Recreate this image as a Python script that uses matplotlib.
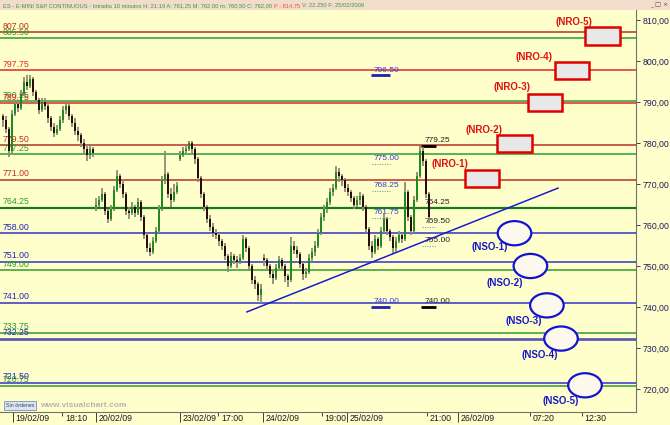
import matplotlib
matplotlib.use('Agg')
import matplotlib.pyplot as plt
import matplotlib.transforms as mtransforms
from matplotlib.patches import Rectangle, Ellipse
import numpy as np

plt.rcParams['font.family'] = ['Liberation Sans', 'DejaVu Sans']

# ---------------- data ----------------
opens = [786.5, 785.5, 783.5, 778.0, 787.0, 789.5, 788.5, 792.0, 795.0, 794.0,
         795.5, 792.5, 790.5, 788.0, 790.0, 789.0, 786.0, 784.0, 782.5, 783.5,
         785.5, 788.0, 789.0, 786.5, 785.0, 783.0, 782.0, 780.0, 778.5, 777.0,
         778.5, 764.5, 765.0, 766.0, 767.5, 763.5, 761.5, 764.0, 768.5, 772.0,
         770.0, 767.5, 763.5, 763.0, 764.5, 763.0, 765.5, 762.0, 757.5, 754.5,
         753.5, 756.0, 758.5, 764.0, 771.0, 772.5, 767.5, 766.0, 768.0, 776.0,
         777.0, 778.0, 778.5, 780.0, 778.5, 776.0, 771.5, 767.5, 764.5, 761.5,
         759.5, 758.0, 757.5, 756.0, 755.0, 752.5, 750.0, 752.5, 751.5, 751.0,
         752.0, 756.5, 754.5, 750.0, 746.5, 745.5, 743.0, 752.0, 751.5, 750.0,
         748.0, 747.0, 749.5, 751.5, 750.0, 747.5, 746.5, 755.0, 754.0, 753.0,
         750.5, 748.0, 748.5, 752.0, 753.5, 755.0, 758.0, 762.0, 764.0, 765.5,
         768.0, 769.0, 773.0, 772.0, 771.0, 769.0, 768.0, 766.5, 765.0, 766.0,
         767.0, 764.5, 759.0, 755.0, 753.5, 756.5, 755.0, 758.5, 761.5, 758.5,
         757.0, 754.5, 756.0, 757.5, 756.5, 768.0, 762.0, 758.5, 766.0, 772.0,
         778.0, 775.5, 767.5]
highs = [787.0, 786.5, 784.0, 788.0, 790.5, 790.5, 793.0, 796.0, 796.5, 796.5,
         796.0, 793.0, 791.0, 791.0, 791.0, 789.5, 786.5, 785.0, 784.5, 786.5,
         789.0, 789.5, 789.5, 787.0, 786.0, 784.0, 782.5, 781.0, 779.5, 779.5,
         779.0, 766.5, 767.0, 769.0, 768.0, 764.0, 765.0, 769.5, 773.5, 772.5,
         771.0, 768.0, 764.5, 765.5, 765.0, 766.5, 766.0, 762.5, 758.0, 755.5,
         757.0, 759.5, 765.0, 772.0, 778.0, 773.0, 769.0, 770.0, 770.5, 778.0,
         779.0, 779.5, 780.5, 780.5, 779.0, 776.5, 772.0, 768.0, 765.0, 762.5,
         760.5, 759.0, 758.0, 756.5, 755.5, 753.0, 753.5, 753.0, 752.5, 753.0,
         757.5, 757.0, 755.0, 750.5, 747.5, 746.0, 745.5, 753.0, 752.0, 750.5,
         749.0, 750.5, 752.5, 752.0, 750.5, 748.0, 757.0, 756.0, 755.0, 753.5,
         751.0, 749.5, 753.0, 754.5, 756.0, 759.0, 763.0, 765.0, 766.5, 769.0,
         770.0, 774.5, 774.0, 772.5, 771.5, 770.0, 768.5, 767.0, 767.0, 768.0,
         767.5, 765.0, 759.5, 756.0, 757.5, 757.0, 759.5, 763.0, 762.0, 759.0,
         757.5, 757.0, 758.5, 758.0, 770.5, 768.5, 762.5, 767.0, 773.0, 779.25,
         779.0, 776.0, 768.0]
lows = [784.0, 782.5, 776.5, 777.5, 786.5, 787.5, 788.0, 791.5, 793.0, 793.5,
        791.5, 789.5, 787.0, 787.5, 788.0, 785.0, 783.0, 781.5, 782.0, 783.0,
        785.0, 787.0, 785.5, 784.0, 782.0, 780.5, 779.0, 777.0, 775.5, 776.0,
        776.5, 763.5, 764.5, 765.5, 762.5, 760.5, 761.0, 763.5, 768.0, 769.0,
        766.5, 762.5, 761.5, 762.5, 762.0, 762.5, 761.0, 756.5, 753.5, 752.5,
        753.0, 755.5, 758.0, 763.5, 770.0, 766.5, 764.5, 765.5, 767.5, 775.5,
        776.5, 777.5, 778.0, 777.5, 775.0, 770.5, 766.5, 763.5, 760.5, 758.5,
        757.0, 756.5, 755.0, 754.0, 751.5, 748.5, 749.5, 750.5, 749.5, 750.5,
        751.5, 753.5, 749.0, 745.5, 744.5, 741.5, 741.0, 750.0, 749.0, 747.0,
        745.5, 746.5, 749.0, 749.0, 746.0, 745.0, 746.0, 753.0, 752.0, 749.5,
        746.5, 747.0, 748.0, 751.0, 752.5, 754.5, 757.5, 761.0, 763.0, 765.0,
        767.0, 768.5, 770.5, 769.5, 768.0, 767.0, 765.5, 764.0, 764.5, 765.0,
        763.5, 758.0, 754.0, 752.0, 753.0, 754.0, 754.5, 758.0, 757.5, 756.0,
        753.0, 753.5, 755.5, 755.5, 756.0, 761.0, 757.5, 758.0, 765.5, 771.5,
        774.5, 766.5, 760.5]
closes = [785.5, 783.5, 778.0, 787.0, 789.5, 788.5, 792.0, 795.0, 794.0, 795.5,
          792.5, 790.5, 788.0, 790.0, 789.0, 786.0, 784.0, 782.5, 783.5, 785.5,
          788.0, 789.0, 786.5, 785.0, 783.0, 782.0, 780.0, 778.5, 777.0, 778.5,
          777.5, 765.0, 766.0, 767.5, 763.5, 761.5, 764.0, 768.5, 772.0, 770.0,
          767.5, 763.5, 763.0, 764.5, 763.0, 765.5, 762.0, 757.5, 754.5, 753.5,
          756.0, 758.5, 764.0, 771.0, 772.5, 767.5, 766.0, 768.0, 769.5, 777.0,
          778.0, 778.5, 780.0, 778.5, 776.0, 771.5, 767.5, 764.5, 761.5, 759.5,
          758.0, 757.5, 756.0, 755.0, 752.5, 750.0, 752.5, 751.5, 751.0, 752.0,
          756.5, 754.5, 750.0, 746.5, 745.5, 743.0, 744.5, 751.5, 750.0, 748.0,
          747.0, 749.5, 751.5, 750.0, 747.5, 746.5, 755.0, 754.0, 753.0, 750.5,
          748.0, 748.5, 752.0, 753.5, 755.0, 758.0, 762.0, 764.0, 765.5, 768.0,
          769.0, 773.0, 772.0, 771.0, 769.0, 768.0, 766.5, 765.0, 766.0, 767.0,
          764.5, 759.0, 755.0, 753.5, 756.5, 755.0, 758.5, 761.5, 758.5, 757.0,
          754.5, 756.0, 757.5, 756.5, 768.0, 762.0, 758.5, 766.0, 772.0, 778.0,
          775.5, 767.5, 762.0]

level_values = [807.00, 805.50, 797.75, 790.25, 789.75, 779.50, 777.25, 771.00,
                764.25, 758.00, 751.00, 749.00, 741.00, 733.75, 732.25, 721.50, 720.75]
level_kinds = ['r1', 'g', 'r2', 'g', 'r2', 'r1', 'g', 'r1',
               'g2', 'b', 'b', 'g', 'b', 'g', 'b2', 'b', 'g']

nro_labels = ['(NRO-1)', '(NRO-2)', '(NRO-3)', '(NRO-4)', '(NRO-5)']
nro_levels = [771.3, 779.8, 789.9, 797.7, 806.1]
nso_labels = ['(NSO-1)', '(NSO-2)', '(NSO-3)', '(NSO-4)', '(NSO-5)']
nso_levels = [758.0, 750.0, 740.4, 732.3, 720.9]

blue_marks = [796.50, 775.00, 768.25, 761.75, 740.00]
blue_mark_style = ['solid', 'dot', 'dot', 'dot', 'solid']
black_marks = [779.25, 764.25, 759.50, 755.00, 740.00]
black_mark_style = ['solid', 'none', 'dot', 'dot', 'solid']

trend_x = [81.3, 185.0]
trend_y = [738.8, 769.0]

date_ticks = [3.33, 31.0, 59.0, 86.67, 114.67, 151.67]
date_labels = ['19/02/09', '20/02/09', '23/02/09', '24/02/09', '25/02/09', '26/02/09']
time_ticks = [19.67, 71.67, 106.33, 141.33, 175.67, 193.0]
time_labels = ['18:10', '17:00', '19:00', '21:00', '07:20', '12:30']
ytick_values = [720, 730, 740, 750, 760, 770, 780, 790, 800, 810]

# ---------------- positions (layout) ----------------
nro_x = [159.7, 170.5, 180.7, 189.7, 199.8]
nro_lab_x = [149.0, 160.3, 169.7, 177.0, 190.3]
nro_lab_y = [774.9, 783.2, 793.7, 801.0, 809.5]
nso_x = [170.5, 175.8, 181.3, 186.0, 194.0]
nso_lab_x = [162.3, 167.3, 173.7, 179.0, 186.0]
nso_lab_y = [754.6, 745.9, 736.6, 728.3, 717.1]

BG = '#ffffcc'
colors = {'r1': '#b83222', 'r2': '#e02a2a', 'g': '#2f9a2f', 'g2': '#1a7a1a',
          'b': '#3232c8', 'b2': '#5a5ab4'}
widths = {'r1': 1.1, 'r2': 1.1, 'g': 1.1, 'g2': 1.6, 'b': 1.1, 'b2': 2.0}
label_colors = {'r1': '#c8281e', 'r2': '#e02a2a', 'g': '#2f9a2f', 'g2': '#2f9a2f',
                'b': '#2323c0', 'b2': '#2323c0'}

fig = plt.figure(figsize=(6.7, 4.25), dpi=100)
fig.patch.set_facecolor(BG)
ax = fig.add_axes([0, 1 - 412 / 425, 636 / 670, 402 / 425])
ax.set_facecolor(BG)
ax.set_xlim(-1, 211)
ax.set_ylim(714.39, 812.44)

# title bar
fig.add_artist(Rectangle((0, 1 - 10 / 425), 1, 10 / 425, transform=fig.transFigure,
                         facecolor='#f2dccc', edgecolor='none', zorder=0))
t1 = fig.text(3 / 670, 1 - 5.5 / 425,
              'ES - E-MINI S&P CONTINUOUS - Intradia 10 minutos H: 21:19 A: 761,25 M: 762,00 m: 760,50 C: 762,00 ',
              color='#3a9a3a', fontsize=4.15, va='center', ha='left')
t2 = ax.annotate('P : 814,75 ', xy=(1, 0), xycoords=t1, va='bottom', ha='left',
                 color='#e0601a', fontsize=4.15, annotation_clip=False)
t3 = ax.annotate('V: 22.250 F: 25/02/2009', xy=(1, 0), xycoords=t2, va='bottom', ha='left',
                 color='#3a9a3a', fontsize=4.15, annotation_clip=False)
fig.text(668 / 670, 1 - 5.5 / 425, '_ \u25a1 \u00d7', color='#505050', fontsize=4.5,
         va='center', ha='right', family='DejaVu Sans')

# level lines
for v, k in zip(level_values, level_kinds):
    ax.axhline(v, color=colors[k], lw=widths[k], zorder=2)
    ax.text(0, v + 0.35, f'{v:.2f}', color=label_colors[k], fontsize=6.3,
            va='bottom', ha='left', zorder=3)

# candles
n = len(closes)
x = np.arange(n)
o = np.array(opens); c = np.array(closes)
ax.vlines(x, lows, highs, colors='#8c8c78', lw=1.3, zorder=4)
bottoms = np.minimum(o, c)
heights = np.maximum(np.abs(c - o), 0.3)
body_colors = ['#1f8a1f' if cc >= oo else '#2a0c0c' for oo, cc in zip(o, c)]
ax.bar(x, heights, bottom=bottoms, width=0.75, color=body_colors, linewidth=0, zorder=5)

# trend line
ax.plot(trend_x, trend_y, color='#1c1ccc', lw=1.1, zorder=6)

# price marks
for v, s in zip(blue_marks, blue_mark_style):
    ax.text(123.4, v + 0.45, f'{v:.2f}', color='#3a3ad0', fontsize=6.0, va='bottom', ha='left', zorder=3)
    if s == 'solid':
        ax.plot([122.7, 129.0], [v, v], color='#2020b8', lw=2.0, zorder=3, solid_capstyle='butt')
    else:
        ax.plot([122.9, 129.0], [v, v], color='#9090a0', lw=0.8, ls=(0, (1, 1.2)), zorder=3)
for v, s in zip(black_marks, black_mark_style):
    ax.text(140.4, v + 0.45, f'{v:.2f}', color='#222222', fontsize=6.0, va='bottom', ha='left', zorder=3)
    if s == 'solid':
        ax.plot([139.2, 144.3], [v, v], color='#000000', lw=2.0, zorder=3, solid_capstyle='butt')
    elif s == 'dot':
        ax.plot([139.6, 144.0], [v, v], color='#9090a0', lw=0.8, ls=(0, (1, 1.2)), zorder=3)

# NRO boxes
for lab, lv, bx, lx, ly in zip(nro_labels, nro_levels, nro_x, nro_lab_x, nro_lab_y):
    ax.add_patch(Rectangle((bx - 5.7, lv - 2.1), 11.4, 4.2, facecolor='#e8e8e8',
                           edgecolor='#e00000', lw=1.8, zorder=7))
    ax.text(lx, ly, lab, color='#e01010', fontsize=7, fontweight='bold',
            ha='center', va='center', zorder=8)

# NSO ellipses
for lab, lv, ex, lx, ly in zip(nso_labels, nso_levels, nso_x, nso_lab_x, nso_lab_y):
    ax.add_patch(Ellipse((ex, lv), 11.2, 5.9, facecolor='#fdf8ee',
                         edgecolor='#1414d0', lw=1.6, zorder=7))
    ax.text(lx, ly, lab, color='#1818c8', fontsize=7, fontweight='bold',
            ha='center', va='center', zorder=8)

# axes styling
for s in ['left', 'top']:
    ax.spines[s].set_visible(False)
ax.spines['right'].set_color('#707070')
ax.spines['bottom'].set_color('#707070')
ax.spines['right'].set_linewidth(0.8)
ax.spines['bottom'].set_linewidth(0.8)

ax.yaxis.tick_right()
ax.set_yticks(ytick_values)
ax.set_yticklabels([f'{v:.2f}'.replace('.', ',') for v in ytick_values])
ax.tick_params(axis='y', direction='out', length=3, width=0.7, color='#404040',
               labelsize=6.3, labelcolor='#1c1c5c', pad=1.5)

ax.set_xticks(date_ticks)
ax.set_xticklabels(date_labels)
ax.set_xticks(time_ticks, minor=True)
ax.set_xticklabels(time_labels, minor=True)
ax.tick_params(axis='x', which='major', direction='out', length=7, width=0.7,
               color='#404040', labelsize=6.3, labelcolor='#1a1a1a', pad=-5.8)
ax.tick_params(axis='x', which='minor', direction='out', length=3, width=0.7,
               color='#404040', labelsize=6.3, labelcolor='#1a1a1a', pad=-1.8)
off = mtransforms.ScaledTranslation(2.0 / 72, 0, fig.dpi_scale_trans)
for lab in ax.get_xticklabels() + ax.get_xticklabels(minor=True):
    lab.set_horizontalalignment('left')
    lab.set_transform(lab.get_transform() + off)

# footer
ax.text(0.009, 0.016, 'Sin órdenes', transform=ax.transAxes, fontsize=3.8,
        color='#304070', va='center', ha='left',
        bbox=dict(boxstyle='square,pad=0.35', facecolor='#dce6f2', edgecolor='#7890b0', lw=0.6),
        zorder=9)
ax.text(0.063, 0.017, 'www.visualchart.com', transform=ax.transAxes, fontsize=6,
        color='#b4b4b4', fontweight='bold', va='center', ha='left', zorder=9)

fig.savefig('out.png', dpi=100, facecolor=BG)
